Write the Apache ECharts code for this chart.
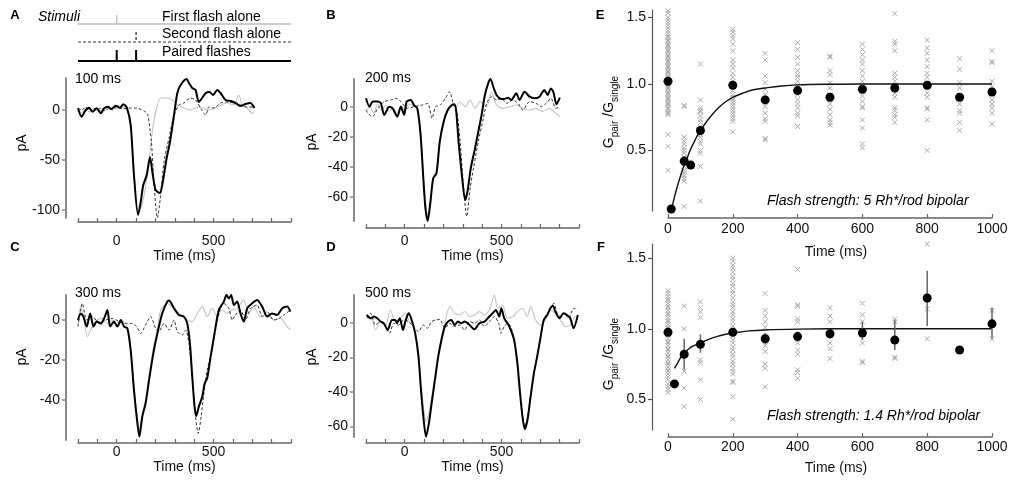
<!DOCTYPE html>
<html><head><meta charset="utf-8">
<script src="https://cdn.jsdelivr.net/npm/echarts@6/dist/echarts.min.js"></script>
<style>html,body{margin:0;padding:0;background:#fff}#c{width:1020px;height:481px}</style>
</head><body><div id="c"></div>
<script>
// ---------------- DATA ----------------
const flashFirst = [0];
const flashSecond = [100];
const flashPaired = [0, 100];
const traceTimeRange = [-200, 900];
const traceXLabels = [0, 500];

// Panel A (100 ms interval)
const traceA_first = [[-200,0],[-180,-3],[-160,1],[-140,-2],[-120,1],[-100,-1],[-80,0],[-60,2],[-40,0],[-20,3],[0,1],[20,2],[40,3],[55,1],[72,-14],[89,-62],[110,-103],[130,-95],[150,-75],[170,-45],[185,-20],[200,-3],[227,12],[261,12],[287,10],[313,5],[347,2],[381,0],[407,2],[433,3],[473,0],[508,2],[570,7],[605,5],[630,15],[648,5],[673,2],[699,-3],[711,-3]];
const traceA_second = [[-200,2],[-180,0],[-160,3],[-140,-1],[-120,2],[-100,0],[-80,2],[-60,-1],[-40,2],[-20,0],[0,3],[30,1],[60,2],[107,1.7],[150,-2],[161,-5],[179,-32],[192,-72],[210,-108],[227,-85],[244,-52],[270,-28],[296,-5],[321,5],[347,7],[381,12],[407,10],[433,2],[460,-5],[476,3],[502,2],[536,7],[570,8],[605,7],[639,5],[673,3],[708,3]];
const traceA_paired = [[-200,1.7],[-182,-6.7],[-160,0],[-143,2.3],[-125,-1.7],[-103,1.7],[-82,-3.3],[-65,1.7],[-45,3.3],[-27,1],[-5,4.3],[17,2.3],[34,5.7],[52,2.3],[72,-15],[89,-65],[110,-105],[124,-92],[137,-75],[155,-65],[172,-47],[184,-62],[201,-80],[223,-83],[235,-75],[258,-48],[275,-32],[296,-5],[313,17],[330,25],[361,31],[373,27],[390,22],[407,20],[424,8],[441,12],[460,17],[479,18],[498,15],[519,20],[536,17],[562,10],[588,9],[613,7],[639,4],[665,6],[690,7],[711,2]];

// Panel B (200 ms interval)
const traceB_first = [[-200,-3],[-180,0],[-160,-4],[-140,2],[-120,-2],[-100,1],[-80,-3],[-60,0],[-40,-4],[-20,1],[0,-2],[20,2],[40,1],[65,-1],[82,-17],[95,-42],[107,-64],[119,-73],[133,-62],[147,-47],[164,-42],[181,-23],[201,-10],[222,-2],[244,2],[266,0],[286,3.5],[312,0.2],[337,4.7],[363,-0.9],[389,3.6],[423,0.2],[448,10],[474,1.3],[508,-0.9],[542,0.2],[576,1.3],[610,-0.9],[644,-2],[678,-0.9],[712,-3],[746,-0.9],[780,-4.2],[801,-6.4]];
const traceB_second = [[-200,-2],[-182,-5.3],[-165,-6.4],[-140,-0.9],[-106,3.6],[-72,4.7],[-46,5.8],[-20,3.6],[14,-0.9],[48,0.2],[90,1.3],[119,2.4],[141,-7.6],[159,0.2],[184,1.3],[210,5.8],[232,10.2],[252,1.3],[269,-3.1],[286,-23],[303,-52],[320,-73],[338,-54],[355,-40.9],[380,-23],[406,-7.6],[423,2.4],[448,6.9],[474,4.7],[500,5.8],[525,2.4],[559,4.7],[585,2.4],[610,-2],[645,3.6],[679,2.4],[704,0.2],[730,2.4],[755,5.8],[781,-0.9],[801,0.2]];
const traceB_paired = [[-200,5.8],[-182,0.2],[-165,3.6],[-140,3.6],[-123,2.4],[-106,-5.3],[-80,0.2],[-63,-0.9],[-38,-6.4],[-20,0.2],[-3,-5.3],[10,3.6],[31,4.7],[48,1.3],[65,-0.9],[82,-18.7],[95,-45.3],[107,-67.6],[119,-76],[133,-63],[147,-47.6],[164,-44.2],[181,-23],[201,-9.8],[222,-2],[244,1.3],[256,1.8],[266,-3.1],[278,-23],[295,-45.3],[312,-62],[324,-56.4],[341,-40.9],[363,-27.6],[380,-16.4],[397,-5.3],[414,8],[431,15.8],[443,18.7],[460,12.4],[474,8],[491,5.8],[512,5.3],[534,6.2],[551,4.7],[576,9.1],[593,4.7],[619,10.2],[645,6.9],[670,5.8],[696,6.9],[721,11.3],[738,8],[755,12.4],[767,10.2],[784,1.8],[801,6.2]];

// Panel C (300 ms interval)
const traceC_first = [[-200,-2],[-186,6.7],[-169,0],[-152,-8.3],[-126,-3.3],[-100,0],[-74,0.8],[-48,-1.7],[-22,0],[3,-3.3],[29,-0.8],[55,-3.3],[72,-14],[89,-33],[103,-46],[117,-55],[132,-47],[149,-40],[167,-28],[189,-14],[210,-5],[227,5],[261,8.3],[304,5],[338,1.7],[364,0],[390,-0.8],[416,3.3],[442,6.7],[467,1.7],[493,5.8],[519,1.7],[545,5],[570,3.3],[596,5],[622,5.8],[656,10],[682,3.3],[708,6.7],[742,1.7],[777,2.5],[811,0],[845,0.8],[880,-3.3],[897,-5]];
const traceC_second = [[-200,-3.3],[-177,8.3],[-155,0],[-125,1.7],[-91,-1.7],[-57,0],[-22,0.8],[12,-0.8],[46,-1.7],[81,-1.7],[103,-3.3],[124,-6.7],[149,-2.5],[175,1.7],[201,-4.2],[218,-5.8],[244,-1.7],[270,-5],[296,0],[313,-5.8],[338,-7.5],[356,-5],[373,-11.7],[390,-28.3],[407,-48.3],[421,-56.7],[436,-48.3],[454,-33.3],[467,-25],[488,-16.7],[510,-5],[533,5],[553,8.3],[579,5.8],[596,0],[613,2.5],[639,5],[665,0],[691,5.8],[725,7.5],[751,1.7],[777,4.2],[811,0],[837,0.8],[863,2.5],[897,5]];
const traceC_paired = [[-200,0],[-186,3.3],[-172,1.7],[-155,-3.3],[-137,3.3],[-120,-3.3],[-103,-0.8],[-82,-1.7],[-65,0.8],[-48,5],[-34,-3.3],[-14,-0.8],[3,-3.3],[21,0],[38,-3.3],[55,-4.2],[72,-15],[89,-35],[103,-48.3],[117,-58.3],[132,-48.3],[149,-41.7],[167,-30],[189,-16.7],[210,-6.7],[235,3.3],[261,9.2],[270,9.7],[296,5.8],[321,2.5],[347,1.7],[364,-1.7],[378,-11.7],[390,-28.3],[402,-43.3],[411,-48],[424,-43.3],[442,-38.3],[454,-31.7],[467,-29.2],[485,-18.3],[505,-6.7],[527,5],[553,9.2],[567,12.5],[579,10.8],[591,12.5],[605,7.5],[622,9.2],[639,3.3],[656,-0.8],[674,5.8],[699,8.3],[725,10],[751,6.7],[777,1.7],[802,3.3],[828,2.5],[854,5.8],[880,6.7],[897,4.2]];

// Panel D (500 ms interval)
const traceD_first = [[-194,3.7],[-168,1.7],[-151,-4.1],[-125,0.8],[-100,-2.1],[-74,7.5],[-49,0.8],[-23,2.7],[3,5.6],[28,-0.2],[45,-1.2],[71,-18],[84,-35],[96,-48],[110,-57],[125,-52],[139,-43],[156,-31],[173,-18],[190,-8],[207,0],[233,9.5],[258,5.6],[284,4.6],[309,6.6],[335,3.7],[361,4.6],[386,6.6],[412,4.6],[437,7.5],[463,16.2],[480,8.5],[505,10.4],[531,2.7],[557,3.7],[582,6.6],[608,8.5],[633,3.7],[650,9.5],[676,1.7],[702,-1.2],[727,1.7],[752,7.5],[778,5.6],[804,1.7],[830,-2.1],[855,-1.2],[881,3.7],[894,1.7]];
const traceD_second = [[-194,2.7],[-176,5.6],[-151,-1.2],[-125,0.8],[-100,-2.1],[-78,-6],[-57,-0.2],[-32,-1.2],[-6,1.7],[20,0.8],[45,-2.1],[71,-5],[96,-1.2],[117,-3.1],[139,0.8],[161,1.7],[182,2.1],[207,-3.1],[233,-0.2],[258,-2.1],[284,-1.2],[309,-4.1],[335,0.8],[361,-0.2],[386,1.7],[412,-2.1],[437,0.8],[463,3.7],[485,-0.2],[497,-6],[514,-2.1],[531,-0.2],[548,-2.1],[565,-10],[582,-24],[594,-39],[608,-53],[620,-60],[634,-55],[650,-42],[667,-29],[684,-19],[702,-8],[718,2],[744,6.6],[770,11.4],[795,3.7],[821,5.6],[847,2.7],[872,8.5],[894,7.5]];
const traceD_paired = [[-197,4.6],[-176,2.7],[-159,3.7],[-142,2.7],[-125,0.8],[-108,-0.2],[-88,-4.1],[-66,1.7],[-49,1.7],[-40,-0.2],[-26,2.7],[-9,-4.1],[3,0.8],[20,5.6],[33,2.7],[54,-6],[71,-19.5],[84,-38.8],[96,-54.3],[110,-65.9],[125,-58.1],[139,-46.6],[156,-33],[173,-19.5],[190,-9.7],[207,-2.1],[224,0.8],[241,1.7],[258,-1.2],[275,0.8],[292,-0.2],[309,0.8],[335,-1.2],[360,-3.7],[386,-0.2],[412,0.8],[437,3.7],[454,5.6],[471,7.5],[488,3.7],[499,8.5],[514,2.7],[531,-0.2],[548,-4.1],[565,-9.9],[582,-23.4],[594,-38.8],[608,-54.3],[620,-61.6],[634,-56.2],[650,-42.7],[667,-29.2],[684,-19.5],[702,-7.9],[718,1.7],[736,4.6],[752,8.5],[765,9.9],[778,6.6],[799,2.7],[821,5.6],[838,4.6],[855,2.7],[872,-3.1],[894,4.6]];

// Panel E (5 Rh*/rod bipolar)
const E_crossTimes = [0,50,100,200,300,400,500,600,700,800,900,1000];
const E_crossValues = [
  [1.55,1.53,1.5,1.48,1.46,1.44,1.42,1.4,1.38,1.36,1.35,1.33,1.32,1.3,1.29,1.28,1.26,1.25,1.24,1.22,1.21,1.2,1.18,1.17,1.16,1.14,1.13,1.12,1.1,1.09,1.08,1.06,1.05,1.04,1.02,1.01,1.0,0.98,0.97,0.96,0.94,0.93,0.92,0.9,0.89,0.88,0.86,0.85,0.84,0.82,0.81,0.79,0.78,0.77,0.62,0.53,0.35],
  [0.84,0.83,0.6,0.57,0.55,0.52,0.5,0.48,0.45,0.43,0.4,0.38,0.35,0.33,0.31,0.29,0.27,0.08],
  [1.15,0.88,0.82,0.8,0.79,0.76,0.73,0.71,0.68,0.65,0.62,0.6,0.57,0.55,0.5,0.48,0.38,0.12],
  [1.41,1.39,1.36,1.34,1.3,1.25,1.18,1.15,1.12,1.08,1.05,1.02,0.98,0.95,0.92,0.9,0.88,0.86,0.84,0.82,0.8,0.78,0.76,0.74,0.72,0.64],
  [1.23,1.18,1.06,1.01,0.96,0.92,0.88,0.83,0.78,0.74,0.72,0.59,0.58],
  [1.31,1.26,1.2,1.15,1.1,1.07,1.05,1.02,0.99,0.96,0.92,0.88,0.85,0.82,0.78,0.76,0.68],
  [1.21,1.2,1.1,1.07,1.01,0.97,0.92,0.88,0.85,0.81,0.77,0.73,0.71,0.69],
  [1.3,1.26,1.22,1.18,1.15,1.1,1.06,1.02,0.96,0.91,0.87,0.83,0.82,0.73,0.67,0.55,0.52],
  [1.53,1.32,1.3,1.25,1.08,1.05,1.02,0.97,0.93,0.9,0.82,0.8,0.77,0.75,0.71],
  [1.33,1.27,1.23,1.18,1.13,1.08,1.05,1.01,0.97,0.93,0.9,0.82,0.81,0.73,0.5],
  [1.19,1.11,1.01,0.97,0.85,0.8,0.78,0.71,0.65],
  [1.25,1.17,1.16,1.02,0.98,0.92,0.88,0.85,0.82,0.78,0.7]
];
const E_meanTimes = [0,10,50,70,100,200,300,400,500,600,700,800,900,1000];
const E_means = [1.02,0.06,0.42,0.39,0.65,0.99,0.88,0.95,0.9,0.96,0.97,0.99,0.9,0.94];
const E_fit = [[12,0.07],[20,0.15],[30,0.24],[40,0.32],[50,0.39],[60,0.45],[70,0.51],[80,0.56],[90,0.61],[100,0.65],[120,0.72],[140,0.78],[160,0.83],[180,0.87],[200,0.9],[230,0.93],[260,0.955],[300,0.97],[350,0.985],[400,0.993],[500,0.998],[600,1.0],[1000,1.0]];

// Panel F (1.4 Rh*/rod bipolar)
const F_crossTimes = [0,50,100,200,300,400,500,600,700,800,1000];
const F_crossValues = [
  [1.27,1.25,1.23,1.21,1.2,1.18,1.16,1.15,1.13,1.11,1.1,1.08,1.06,1.05,1.03,1.01,1.0,0.98,0.96,0.95,0.93,0.91,0.9,0.88,0.86,0.85,0.83,0.81,0.8,0.78,0.76,0.75,0.73,0.71,0.7,0.68,0.66,0.64,0.61,0.59,0.57,0.55],
  [1.16,1.0,0.7,0.58,0.45],
  [1.19,1.15,1.12,1.08,0.78,0.76,0.64,0.5],
  [1.5,1.48,1.45,1.43,1.4,1.37,1.35,1.32,1.3,1.27,1.25,1.22,1.19,1.17,1.15,1.12,1.1,1.07,1.05,1.02,1.0,0.97,0.95,0.92,0.9,0.87,0.85,0.82,0.8,0.77,0.75,0.72,0.7,0.68,0.63,0.62,0.52,0.36],
  [1.25,1.13,1.09,1.05,1.01,0.95,0.91,0.88,0.84,0.75,0.72,0.59],
  [1.42,1.17,1.16,1.07,1.05,0.95,0.9,0.85,0.82,0.71,0.69,0.65],
  [1.15,1.09,1.05,0.99,0.95,0.9,0.86,0.79],
  [1.18,1.1,1.05,0.99,0.9,0.77,0.76],
  [1.07,1.05,0.8,0.79],
  [1.6,1.14,0.93],
  [1.13,0.93]
];
const F_meanTimes = [0,20,50,100,200,300,400,500,600,700,800,900,1000];
const F_means = [0.976,0.61,0.82,0.89,0.976,0.93,0.945,0.965,0.97,0.92,1.218,0.85,1.035];
const F_errLow  = [0.95,null,0.71,0.83,0.95,0.89,0.91,0.93,0.92,0.85,1.02,null,0.93];
const F_errHigh = [1.0,null,0.93,0.96,1.0,0.97,0.98,1.0,1.05,1.06,1.41,null,1.15];
const F_fit = [[20,0.72],[30,0.76],[40,0.8],[50,0.83],[60,0.85],[75,0.875],[100,0.9],[125,0.925],[150,0.945],[175,0.96],[200,0.97],[250,0.985],[300,0.992],[400,0.998],[500,1.0],[1000,1.0]];

// ---------------- CHART ----------------
const FONT = '"Liberation Sans", Arial, Helvetica, sans-serif';
const chart = echarts.init(document.getElementById('c'), null, {renderer: 'canvas'});

const grids = [
  {left: 78, top: 10, width: 213, height: 55},    // 0 stimuli
  {left: 78, top: 78, width: 213, height: 140},   // 1 A
  {left: 366, top: 79, width: 213, height: 142},  // 2 B
  {left: 78, top: 295, width: 213, height: 145},  // 3 C
  {left: 366, top: 295, width: 213, height: 142}, // 4 D
  {left: 668, top: 10, width: 324, height: 201},  // 5 E
  {left: 668, top: 244, width: 324, height: 186}  // 6 F
];

const AX = '#666';
function traceX(gi, offset, margin, nameGap) {
  return {
    type: 'value', gridIndex: gi, min: traceTimeRange[0], max: traceTimeRange[1], interval: 100, offset,
    axisLine: {show: true, onZero: false, lineStyle: {color: AX, width: 1.5}},
    axisTick: {show: true, inside: true, length: 4, lineStyle: {color: AX, width: 1.2}},
    axisLabel: {margin, fontSize: 14, fontFamily: FONT, color: '#111',
      formatter: v => traceXLabels.indexOf(v) >= 0 ? String(v) : ''},
    splitLine: {show: false},
    name: 'Time (ms)', nameLocation: 'middle', nameGap,
    nameTextStyle: {fontSize: 14, fontFamily: FONT, color: '#111'}
  };
}
function traceY(gi, min, max, ticks) {
  return {
    type: 'value', gridIndex: gi, min, max, offset: 12,
    axisLine: {show: true, onZero: false, lineStyle: {color: '#8a8a8a', width: 2}},
    axisTick: {show: true, length: 4, customValues: ticks, lineStyle: {color: '#8a8a8a', width: 1.5}},
    axisLabel: {customValues: ticks, margin: 6, fontSize: 14, fontFamily: FONT, color: '#111'},
    splitLine: {show: false}
  };
}
function ratioX(gi, offset, margin, nameGap) {
  return {
    type: 'value', gridIndex: gi, min: 0, max: 1000, interval: 200, offset,
    axisLine: {show: true, onZero: false, lineStyle: {color: AX, width: 1.5}},
    axisTick: {show: true, inside: true, length: 4, lineStyle: {color: AX, width: 1.2}},
    axisLabel: {margin, fontSize: 14, fontFamily: FONT, color: '#111', formatter: v => String(v)},
    splitLine: {show: false},
    name: 'Time (ms)', nameLocation: 'middle', nameGap,
    nameTextStyle: {fontSize: 14, fontFamily: FONT, color: '#111', padding: [0, 0, 0, 12]}
  };
}
function ratioY(gi, min, max) {
  const ticks = [0.5, 1.0, 1.5];
  return {
    type: 'value', gridIndex: gi, min, max, offset: 16,
    axisLine: {show: true, onZero: false, lineStyle: {color: '#555', width: 1.2}},
    axisTick: {show: true, length: 4, customValues: ticks, lineStyle: {color: '#555', width: 1.2}},
    axisLabel: {customValues: ticks, margin: 6, fontSize: 14, fontFamily: FONT, color: '#111',
      formatter: v => v.toFixed(1)},
    splitLine: {show: false}
  };
}

const xAxes = [
  {type: 'value', gridIndex: 0, min: traceTimeRange[0], max: traceTimeRange[1], show: false},
  traceX(1, 4, 12, 24),
  traceX(2, 7, 6, 18),
  traceX(3, 3, 2, 12),
  traceX(4, 6, 2, 12),
  ratioX(5, 7, 4, 27),
  ratioX(6, 7, 3, 24)
];
const yAxes = [
  {type: 'value', gridIndex: 0, min: 0, max: 55, inverse: true, show: false},
  traceY(1, -108, 32, [-100, -50, 0]),
  traceY(2, -76, 18.67, [-60, -40, -20, 0]),
  traceY(3, -60, 12.5, [-40, -20, 0]),
  traceY(4, -66.1, 16.2, [-60, -40, -20, 0]),
  ratioY(5, 0.045, 1.556),
  ratioY(6, 0.284, 1.6)
];

const series = [];

// Stimulus schematic (row levels are layout constants)
const stimRows = [
  {times: flashFirst,  level: 14, top: 5,  color: '#bdbdbd', width: 1.3, type: 'solid'},
  {times: flashSecond, level: 32, top: 22, color: '#333',    width: 1,   type: [3, 2]},
  {times: flashPaired, level: 51, top: 40, color: '#000',    width: 2,   type: 'solid'}
];
stimRows.forEach(r => {
  series.push({type: 'line', xAxisIndex: 0, yAxisIndex: 0, showSymbol: false, silent: true,
    data: [[traceTimeRange[0], r.level], [traceTimeRange[1], r.level]],
    lineStyle: {color: r.color, width: r.width, type: r.type}});
  r.times.forEach(t => {
    series.push({type: 'line', xAxisIndex: 0, yAxisIndex: 0, showSymbol: false, silent: true,
      data: [[t, r.top], [t, r.level]],
      lineStyle: {color: r.color, width: r.width === 2 ? 2 : 1.3, type: r.type}});
  });
});

function addTraces(gi, first, second, paired) {
  const base = {type: 'line', xAxisIndex: gi, yAxisIndex: gi, showSymbol: false, silent: true, smooth: 0.25, clip: false};
  series.push(Object.assign({}, base, {data: first, lineStyle: {color: '#c4c4c4', width: 1.1}}));
  series.push(Object.assign({}, base, {data: second, lineStyle: {color: '#333', width: 1, type: [3, 2]}}));
  series.push(Object.assign({}, base, {data: paired, lineStyle: {color: '#000', width: 2}}));
}
addTraces(1, traceA_first, traceA_second, traceA_paired);
addTraces(2, traceB_first, traceB_second, traceB_paired);
addTraces(3, traceC_first, traceC_second, traceC_paired);
addTraces(4, traceD_first, traceD_second, traceD_paired);

function crossSeries(gi, times, values) {
  const data = [];
  times.forEach((t, i) => values[i].forEach(v => data.push([t, v])));
  return {
    type: 'custom', xAxisIndex: gi, yAxisIndex: gi, silent: true, data,
    renderItem: (params, api) => {
      const p = api.coord([api.value(0), api.value(1)]);
      const s = 2.4;
      const st = {stroke: '#a9a9a9', lineWidth: 1};
      return {type: 'group', children: [
        {type: 'line', shape: {x1: p[0] - s, y1: p[1] - s, x2: p[0] + s, y2: p[1] + s}, style: st},
        {type: 'line', shape: {x1: p[0] - s, y1: p[1] + s, x2: p[0] + s, y2: p[1] - s}, style: st}
      ]};
    }
  };
}
function fitSeries(gi, data) {
  return {type: 'line', xAxisIndex: gi, yAxisIndex: gi, showSymbol: false, silent: true, smooth: 0.4,
    data, lineStyle: {color: '#111', width: 1.4}};
}
function meanSeries(gi, times, means) {
  return {type: 'scatter', xAxisIndex: gi, yAxisIndex: gi, silent: true, symbolSize: 9, clip: false,
    data: times.map((t, i) => [t, means[i]]), itemStyle: {color: '#000', opacity: 1}, z: 5};
}

series.push(crossSeries(5, E_crossTimes, E_crossValues));
series.push(fitSeries(5, E_fit));
series.push(meanSeries(5, E_meanTimes, E_means));

series.push(crossSeries(6, F_crossTimes, F_crossValues));
series.push(fitSeries(6, F_fit));
series.push({
  type: 'custom', xAxisIndex: 6, yAxisIndex: 6, silent: true, z: 4,
  data: F_meanTimes.map((t, i) => [t, F_errLow[i], F_errHigh[i]]).filter(d => d[1] !== null),
  encode: {x: 0, y: [1, 2]},
  renderItem: (params, api) => {
    const a = api.coord([api.value(0), api.value(1)]);
    const b = api.coord([api.value(0), api.value(2)]);
    return {type: 'line', shape: {x1: a[0], y1: a[1], x2: b[0], y2: b[1]}, style: {stroke: '#666', lineWidth: 1.5}};
  }
});
series.push(meanSeries(6, F_meanTimes, F_means));

function txt(x, y, text, o) {
  o = o || {};
  return {type: 'text', x, y, rotation: o.rot || 0, silent: true, z: 100,
    style: {text, fill: '#000', fontSize: o.size || 14, fontFamily: FONT,
      fontStyle: o.italic ? 'italic' : 'normal', fontWeight: o.bold ? 'bold' : 'normal',
      align: o.align || 'left', verticalAlign: 'middle', rich: o.rich}};
}
const gRich = {
  a: {fontSize: 14, fontFamily: FONT, lineHeight: 22, verticalAlign: 'middle', fill: '#000'},
  b: {fontSize: 10, fontFamily: FONT, lineHeight: 10, verticalAlign: 'bottom', fill: '#000'}
};
const gLabel = '{a|G}{b|pair}{a| /G}{b|single}';

const graphic = [
  txt(15, 15, 'A', {bold: true, size: 13, align: 'center'}),
  txt(331, 15, 'B', {bold: true, size: 13, align: 'center'}),
  txt(15, 247, 'C', {bold: true, size: 13, align: 'center'}),
  txt(331, 247, 'D', {bold: true, size: 13, align: 'center'}),
  txt(600, 15, 'E', {bold: true, size: 13, align: 'center'}),
  txt(601, 247, 'F', {bold: true, size: 13, align: 'center'}),
  txt(38, 17, 'Stimuli', {italic: true}),
  txt(162, 17, 'First flash alone'),
  txt(162, 34, 'Second flash alone'),
  txt(162, 52, 'Paired flashes'),
  txt(75, 79, '100 ms'),
  txt(365, 78, '200 ms'),
  txt(75, 293, '300 ms'),
  txt(365, 293, '500 ms'),
  txt(22, 143, 'pA', {rot: Math.PI / 2, align: 'center'}),
  txt(312, 142, 'pA', {rot: Math.PI / 2, align: 'center'}),
  txt(22, 357, 'pA', {rot: Math.PI / 2, align: 'center'}),
  txt(312, 357, 'pA', {rot: Math.PI / 2, align: 'center'}),
  txt(609, 112, gLabel, {rot: Math.PI / 2, align: 'center', rich: gRich}),
  txt(609, 354, gLabel, {rot: Math.PI / 2, align: 'center', rich: gRich}),
  txt(767, 201, 'Flash strength: 5 Rh*/rod bipolar', {italic: true}),
  txt(767, 416, 'Flash strength: 1.4 Rh*/rod bipolar', {italic: true})
];

chart.setOption({
  animation: false,
  backgroundColor: '#fff',
  textStyle: {fontFamily: FONT},
  grid: grids,
  xAxis: xAxes,
  yAxis: yAxes,
  series,
  graphic
});
</script>
</body></html>
